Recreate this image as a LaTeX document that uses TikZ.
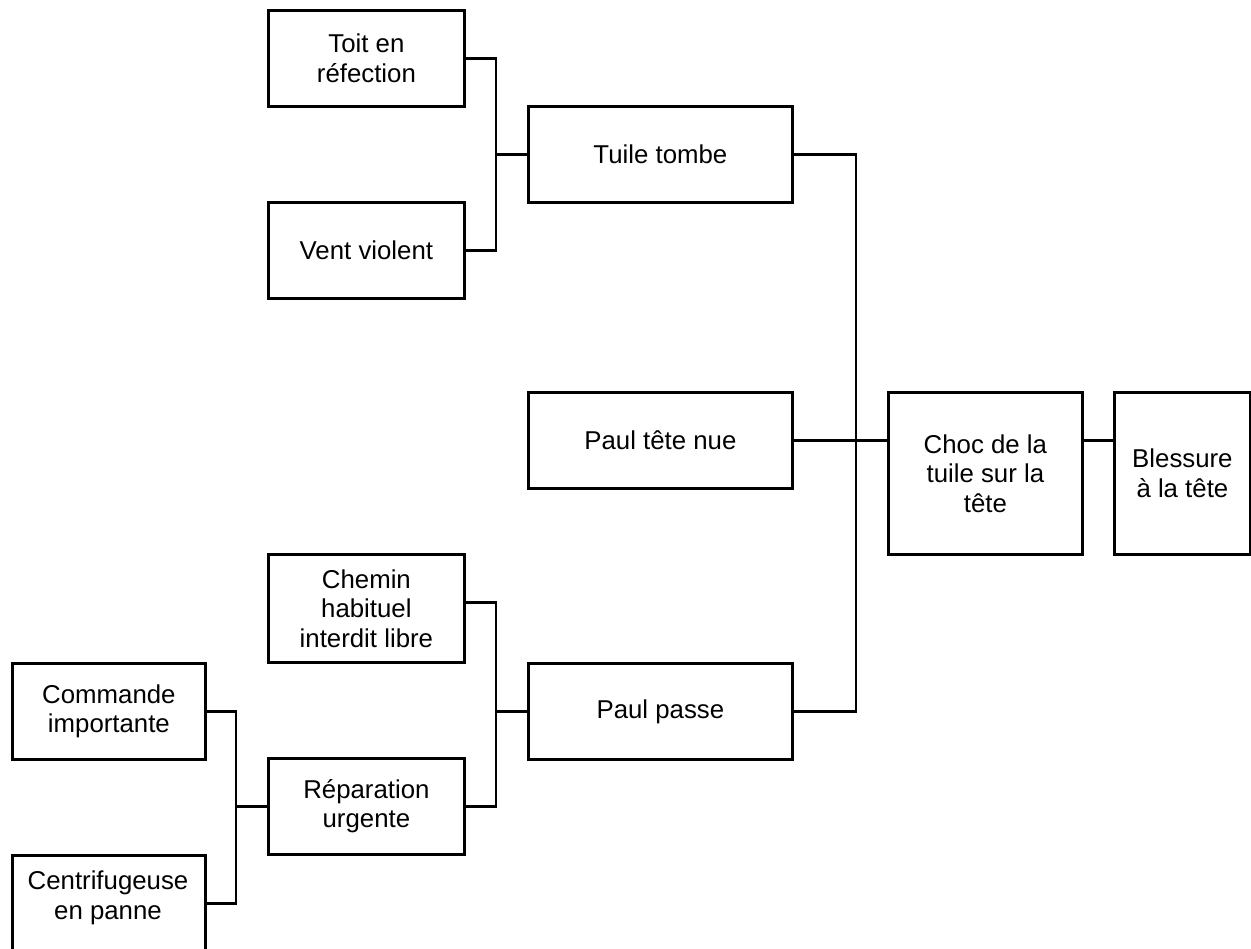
\documentclass[tikz,border=0pt]{standalone}
\usepackage{fontspec}
\setmainfont{Liberation Sans}
\begin{document}
\begin{tikzpicture}[x=1pt,y=-1pt,
  box/.style={draw=black, line width=2.8pt, inner sep=0pt, align=center, anchor=north west,
    font=\fontsize{25.8}{29.5}\selectfont},
  txt/.style={inner sep=0pt, align=center, font=\fontsize{25.8}{29.5}\selectfont},
  conn/.style={draw=black, line width=2.8pt}]
\useasboundingbox[fill=white] (0,0) rectangle (1251,949);
% boxes
\node[box, minimum width=196pt, minimum height=96pt] (toit) at (267,9) {Toit en\\réfection};
\node[box, minimum width=196pt, minimum height=96pt] (vent) at (267,201) {Vent violent};
\node[box, minimum width=264pt, minimum height=96pt] (tuile) at (527,105) {Tuile tombe};
\node[box, minimum width=264pt, minimum height=96pt] (nue) at (527,391) {Paul tête nue};
\node[box, minimum width=194pt, minimum height=162pt] (choc) at (887,391) {Choc de la\\tuile sur la\\tête};
\node[box, minimum width=136pt, minimum height=162pt] (blessure) at (1113,391) {Blessure\\à la tête};
\node[box, minimum width=196pt, minimum height=108pt] (chemin) at (267,553) {Chemin\\habituel\\interdit libre};
\node[box, minimum width=264pt, minimum height=96pt] (passe) at (527,662) {Paul passe};
\node[box, minimum width=196pt, minimum height=96pt] (repar) at (267,757) {Réparation\\urgente};
\node[box, minimum width=193pt, minimum height=96pt] (commande) at (11,662) {Commande\\importante};
\node[box, minimum width=193pt, minimum height=96pt] (centri) at (11,854) {};
\node[txt] (centritxt) at (108,898) {Centrifugeuse\\en panne};
% junctions
\coordinate (j1) at (tuile.west -| 496,0);
\coordinate (j2) at (nue.east -| 856,0);
\coordinate (j3) at (passe.west -| 496,0);
\coordinate (j4) at (repar.west -| 236,0);
% connectors
\draw[conn] (toit.east) -| (j1) |- (vent.east);
\draw[conn] (j1) -- (tuile.west);
\draw[conn] (tuile.east) -| (j2) |- (passe.east);
\draw[conn] (nue.east) -- (choc.west |- nue.east);
\draw[conn] (choc.east |- j2) -- (blessure.west |- j2);
\draw[conn] ([yshift=6pt]chemin.east) -| (j3) |- (repar.east);
\draw[conn] (j3) -- (passe.west);
\draw[conn] (commande.east) -| (j4) |- (centri.east);
\draw[conn] (j4) -- (repar.west);
\end{tikzpicture}
\end{document}
